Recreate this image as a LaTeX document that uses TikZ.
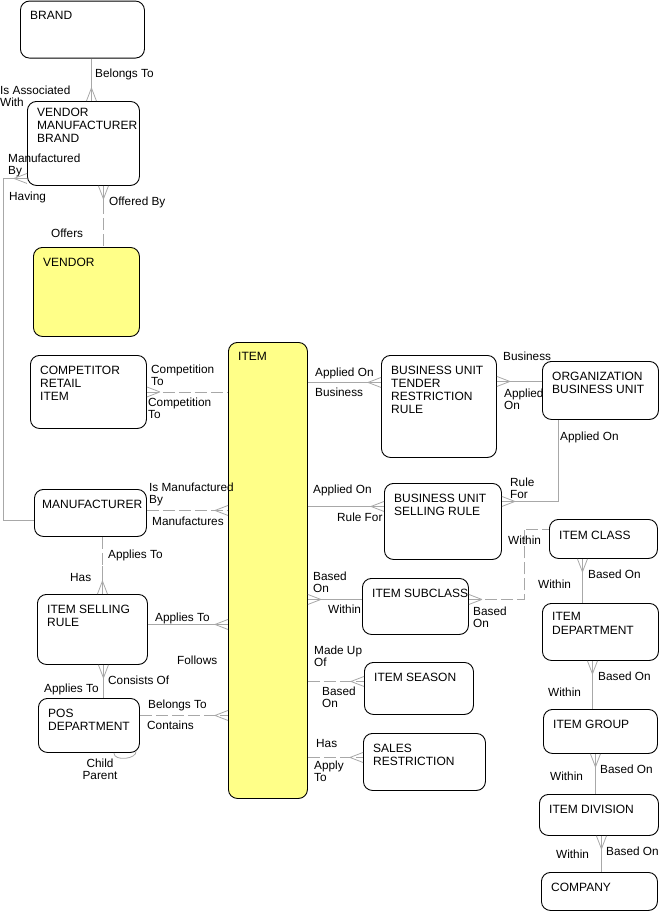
\documentclass[tikz,border=0pt]{standalone}
\usepackage{fontspec}
\setmainfont{Liberation Sans}
\usepackage{tikz}
\usetikzlibrary{decorations.markings}
\definecolor{relgray}{HTML}{A8A8A8}
\definecolor{entyellow}{HTML}{FFFF88}

\begin{document}
\begin{tikzpicture}[x=1pt, y=-1pt,
	entity/.style={draw, line width=0.9pt, rounded corners=9pt, anchor=north west, inner sep=0pt},
	core/.style={entity, fill=entyellow},
	enttext/.style={anchor=north west, inner xsep=10pt, inner ysep=10.5pt, align=left, font=\fontsize{12}{13.2}\selectfont},
	lbl/.style={anchor=north west, inner sep=0pt, align=left, font=\fontsize{11.8}{12.6}\selectfont},
	rel/.style={draw=relgray, line width=0.8pt},
	opt/.style={rel, dash pattern=on 12pt off 4pt},
	crowend/.style={postaction={decorate, decoration={markings, mark=at position 1 with {\draw[relgray, line width=0.8pt, solid] (-13pt,0) -- (0,5pt) (-13pt,0) -- (0,-5pt);}}}},
	crowstart/.style={postaction={decorate, decoration={markings, mark=at position 0 with {\draw[relgray, line width=0.8pt, solid] (13pt,0) -- (0,5pt) (13pt,0) -- (0,-5pt);}}}}
]
\useasboundingbox (0,0) rectangle (659,911);

% entities
\node[entity, minimum width=124pt, minimum height=57pt] (brand) at (20,0.6) {};
\node[entity, minimum width=112pt, minimum height=84pt] (vmb) at (27,101) {};
\node[core, minimum width=106pt, minimum height=89pt] (vendor) at (33,247) {};
\node[entity, minimum width=116pt, minimum height=73pt] (cri) at (30,355) {};
\node[core, minimum width=79pt, minimum height=456pt] (item) at (228,342) {};
\node[entity, minimum width=112pt, minimum height=47pt] (manuf) at (34,489) {};
\node[entity, minimum width=110pt, minimum height=70pt] (isr) at (37,594) {};
\node[entity, minimum width=101pt, minimum height=54pt] (pos) at (38,698) {};
\node[entity, minimum width=115pt, minimum height=102pt] (butrr) at (381,355) {};
\node[entity, minimum width=116pt, minimum height=58pt] (obu) at (542,361) {};
\node[entity, minimum width=117pt, minimum height=76pt] (busr) at (384,483) {};
\node[entity, minimum width=108pt, minimum height=39pt] (iclass) at (549,519) {};
\node[entity, minimum width=106pt, minimum height=56pt] (isc) at (362,578) {};
\node[entity, minimum width=109pt, minimum height=52pt] (season) at (364,662) {};
\node[entity, minimum width=122pt, minimum height=57pt] (sales) at (363,733) {};
\node[entity, minimum width=116pt, minimum height=57pt] (idept) at (542,603) {};
\node[entity, minimum width=114pt, minimum height=44pt] (igroup) at (543,709) {};
\node[entity, minimum width=119pt, minimum height=41pt] (idiv) at (539,794) {};
\node[entity, minimum width=116pt, minimum height=38pt] (company) at (541,872) {};

% entity names
\node[enttext] (brand-t) at (brand.north west) {BRAND};
\node[enttext, inner ysep=6.5pt] (vmb-t) at (vmb.north west) {VENDOR\\MANUFACTURER\\BRAND};
\node[enttext] (vendor-t) at (vendor.north west) {VENDOR};
\node[enttext] (cri-t) at (cri.north west) {COMPETITOR\\RETAIL\\ITEM};
\node[enttext] (item-t) at (item.north west) {ITEM};
\node[enttext, inner xsep=8pt] (manuf-t) at (manuf.north west) {MANUFACTURER};
\node[enttext] (isr-t) at (isr.north west) {ITEM SELLING\\RULE};
\node[enttext] (pos-t) at (pos.north west) {POS\\DEPARTMENT};
\node[enttext] (butrr-t) at (butrr.north west) {BUSINESS UNIT\\TENDER\\RESTRICTION\\RULE};
\node[enttext] (obu-t) at (obu.north west) {ORGANIZATION\\BUSINESS UNIT};
\node[enttext] (busr-t) at (busr.north west) {BUSINESS UNIT\\SELLING RULE};
\node[enttext, inner ysep=12pt] (iclass-t) at (iclass.north west) {ITEM CLASS};
\node[enttext] (isc-t) at (isc.north west) {ITEM SUBCLASS};
\node[enttext] (season-t) at (season.north west) {ITEM SEASON};
\node[enttext] (sales-t) at (sales.north west) {SALES\\RESTRICTION};
\node[enttext, inner ysep=9.5pt] (idept-t) at (idept.north west) {ITEM\\DEPARTMENT};
\node[enttext] (igroup-t) at (igroup.north west) {ITEM GROUP};
\node[enttext] (idiv-t) at (idiv.north west) {ITEM DIVISION};
\node[enttext] (company-t) at (company.north west) {COMPANY};

% relationships
\draw[rel, crowend] ([xshift=9pt]brand.south) -- ([xshift=9pt]brand.south |- vmb.north);
\draw[rel, crowstart] ([yshift=-35pt]vmb.west) -- ++(-24,0) |- ([yshift=-7.5pt]manuf.west);
\draw[opt] ([xshift=20pt]vmb.south) -- ([xshift=20pt]vmb.south |- vendor.north);
\draw[rel, crowstart] ([xshift=20pt]vmb.south) -- ++(0,28);
\draw[opt, crowstart] (cri.east) -- (cri.east -| item.west);
\draw[opt, crowend] ([yshift=2.5pt]manuf.east) -- ([yshift=2.5pt]manuf.east -| item.west);
\draw[opt] ([xshift=12pt]manuf.south) -- ([xshift=12pt]manuf.south |- isr.north);
\draw[rel, crowend] ([xshift=12pt,yshift=28pt]manuf.south |- isr.north) -- ([xshift=12pt]manuf.south |- isr.north);
\draw[rel, crowend] ([yshift=5pt]isr.east) -- ([yshift=5pt]isr.east -| item.west);
\draw[rel, crowstart] ([xshift=11pt]isr.south) -- ([xshift=11pt]isr.south |- pos.north);
\draw[opt, crowend] ([yshift=10pt]pos.east) -- ([yshift=10pt]pos.east -| item.west);
\draw[rel] ([xshift=-26pt]pos.south east) .. controls +(0,9) and +(2,8) .. ([xshift=-4pt,yshift=2pt]pos.south east);
\draw[rel, crowend] ([yshift=24pt]item.east |- butrr.west) -- ([yshift=24pt]butrr.west);
\draw[rel, crowstart] ([yshift=9pt]obu.west -| butrr.east) -- ([yshift=9pt]obu.west);
\draw[rel, crowend] ([xshift=-42pt]obu.south) |- ([yshift=20pt]busr.east);
\draw[rel, crowend] ([yshift=15pt]item.east |- busr.west) -- ([yshift=15pt]busr.west);
\draw[rel, crowstart] ([yshift=7pt]item.east |- isc.west) -- ([yshift=7pt]isc.west);
\draw[opt, crowstart] ([yshift=7pt]isc.east) -- ++(55,0) |- ([yshift=10pt]iclass.west);
\draw[opt, crowend] ([yshift=7pt]item.east |- season.west) -- ([yshift=7pt]season.west);
\draw[opt, crowend] ([yshift=4.5pt]item.east |- sales.west) -- ([yshift=4.5pt]sales.west);
\draw[rel, crowstart] ([xshift=-21pt]iclass.south) -- ([xshift=-21pt]iclass.south |- idept.north);
\draw[rel, crowstart] ([xshift=-8pt]idept.south) -- ([xshift=-8pt]idept.south |- igroup.north);
\draw[rel, crowstart] ([xshift=-5pt]igroup.south) -- ([xshift=-5pt]igroup.south |- idiv.north);
\draw[rel, crowstart] ([xshift=2.5pt]idiv.south) -- ([xshift=2.5pt]idiv.south |- company.north);

% relationship names
\node[lbl] (r1a) at (95,68.5) {Belongs To};
\node[lbl] (r1b) at (0,85.5) {Is Associated\\With};
\node[lbl] (r2a) at (8,153.5) {Manufactured\\By};
\node[lbl] (r2b) at (9,191.5) {Having};
\node[lbl] (r3a) at (109,196.5) {Offered By};
\node[lbl] (r3b) at (51,228.5) {Offers};
\node[lbl] (r4a) at (151,364.5) {Competition\\To};
\node[lbl] (r4b) at (148,397.5) {Competition\\To};
\node[lbl] (r5a) at (149,482.5) {Is Manufactured\\By};
\node[lbl] (r5b) at (152,516.5) {Manufactures};
\node[lbl] (r6a) at (108,549.5) {Applies To};
\node[lbl] (r6b) at (70,573.5) {Has};
\node[lbl] (r7a) at (155,612.5) {Applies To};
\node[lbl] (r7b) at (177,655.5) {Follows};
\node[lbl] (r8a) at (108,675.5) {Consists Of};
\node[lbl] (r8b) at (44,683.5) {Applies To};
\node[lbl] (r9a) at (148,699.5) {Belongs To};
\node[lbl] (r9b) at (147,720.5) {Contains};
\node[lbl, anchor=north, align=center] (r10) at (100,758.5) {Child\\Parent};
\node[lbl] (r11a) at (315,367.5) {Applied On};
\node[lbl] (r11b) at (315,387.5) {Business};
\node[lbl] (r12a) at (503,351.5) {Business};
\node[lbl] (r12b) at (504,388.5) {Applied\\On};
\node[lbl] (r13a) at (560,431.5) {Applied On};
\node[lbl] (r13b) at (510,477.5) {Rule\\For};
\node[lbl] (r14a) at (313,484.5) {Applied On};
\node[lbl] (r14b) at (337,512.5) {Rule For};
\node[lbl] (r15a) at (313,571.5) {Based\\On};
\node[lbl] (r15b) at (328,604.5) {Within};
\node[lbl] (r16a) at (473,606.5) {Based\\On};
\node[lbl] (r16b) at (508,535.5) {Within};
\node[lbl] (r17a) at (314,645.5) {Made Up\\Of};
\node[lbl] (r17b) at (322,686.5) {Based\\On};
\node[lbl] (r18a) at (316,739.5) {Has};
\node[lbl] (r18b) at (314,760.5) {Apply\\To};
\node[lbl] (r19a) at (588,569.5) {Based On};
\node[lbl] (r19b) at (538,579.5) {Within};
\node[lbl] (r20a) at (598,671.5) {Based On};
\node[lbl] (r20b) at (548,687.5) {Within};
\node[lbl] (r21a) at (600,764.5) {Based On};
\node[lbl] (r21b) at (550,771.5) {Within};
\node[lbl] (r22a) at (606,846.5) {Based On};
\node[lbl] (r22b) at (556,849.5) {Within};
\end{tikzpicture}
\end{document}
